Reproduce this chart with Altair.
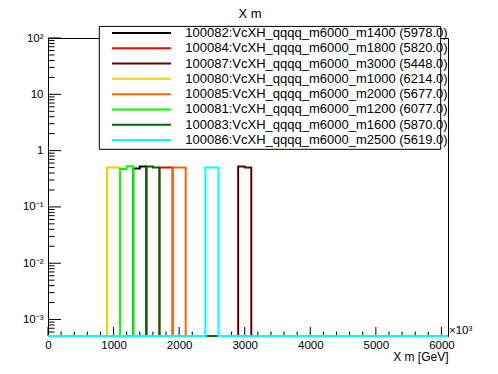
import altair as alt
import pandas as pd

FONT = "Liberation Sans"

# ---- data ----
chart_title = "X m"
series_labels = [
    "100082:VcXH_qqqq_m6000_m1400 (5978.0)",
    "100084:VcXH_qqqq_m6000_m1800 (5820.0)",
    "100087:VcXH_qqqq_m6000_m3000 (5448.0)",
    "100080:VcXH_qqqq_m6000_m1000 (6214.0)",
    "100085:VcXH_qqqq_m6000_m2000 (5677.0)",
    "100081:VcXH_qqqq_m6000_m1200 (6077.0)",
    "100083:VcXH_qqqq_m6000_m1600 (5870.0)",
    "100086:VcXH_qqqq_m6000_m2500 (5619.0)",
]
series_colors = ["#000000", "#ff0000", "#660000", "#ffcc00",
                 "#ff6600", "#00ff00", "#006600", "#00ffff"]
# lower edge of the first non-empty bin, and the two non-empty bin contents
first_bin = [1300, 1700, 2900, 900, 1900, 1100, 1500, 2400]
bin_contents = [
    [0.48, 0.52],
    [0.50, 0.50],
    [0.52, 0.50],
    [0.50, 0.50],
    [0.50, 0.50],
    [0.47, 0.53],
    [0.52, 0.50],
    [0.50, 0.50],
]
bin_width = 100
x_max = 6100

x_major = [0, 1000, 2000, 3000, 4000, 5000, 6000]
x_minor = [200, 400, 600, 800, 1200, 1400, 1600, 1800, 2200, 2400, 2600, 2800,
           3200, 3400, 3600, 3800, 4200, 4400, 4600, 4800, 5200, 5400, 5600, 5800]
y_major = [0.001, 0.01, 0.1, 1, 10, 100]
y_major_labels = ["10⁻³", "10⁻²", "10⁻¹", "1", "10", "10²"]
y_minor = [6e-4, 7e-4, 8e-4, 9e-4,
           2e-3, 3e-3, 4e-3, 5e-3, 6e-3, 7e-3, 8e-3, 9e-3,
           2e-2, 3e-2, 4e-2, 5e-2, 6e-2, 7e-2, 8e-2, 9e-2,
           0.2, 0.3, 0.4, 0.5, 0.6, 0.7, 0.8, 0.9,
           2, 3, 4, 5, 6, 7, 8, 9,
           20, 30, 40, 50, 60, 70, 80, 90]

y_min, y_max = 5.1e-4, 100
W, H = 400, 298

xscale = alt.Scale(domain=[0, x_max], nice=False, zero=False)
yscale = alt.Scale(type="log", domain=[y_min, y_max], nice=False, clamp=True)


def hist_frame(start, contents):
    rows = []
    filled = {start + k * bin_width: v for k, v in enumerate(contents)}
    for e in range(0, x_max + bin_width, bin_width):
        v = filled.get(e, 0.0)
        # empty bins sit on the bottom of the frame (clamped log scale)
        rows.append({"x": e, "y": v if v > 0 else 1e-6})
    return pd.DataFrame(rows)


label_expr = " : ".join(
    f"datum.value == {v} ? '{t}'" for v, t in zip(y_major, y_major_labels)
) + " : ''"

layers = []

# tick marks (ROOT style, pointing into the frame)
layers.append(alt.Chart(pd.DataFrame({"v": y_major})).mark_rule(color="black", strokeWidth=1).encode(
    y=alt.Y("v:Q", scale=yscale, axis=None), x=alt.value(0), x2=alt.value(13)))
layers.append(alt.Chart(pd.DataFrame({"v": y_minor})).mark_rule(color="black", strokeWidth=1).encode(
    y=alt.Y("v:Q", scale=yscale, axis=None), x=alt.value(0), x2=alt.value(6.5)))
layers.append(alt.Chart(pd.DataFrame({"v": x_major})).mark_rule(color="black", strokeWidth=1).encode(
    x=alt.X("v:Q", scale=xscale, axis=None), y=alt.value(H), y2=alt.value(H - 9)))
layers.append(alt.Chart(pd.DataFrame({"v": x_minor})).mark_rule(color="black", strokeWidth=1).encode(
    x=alt.X("v:Q", scale=xscale, axis=None), y=alt.value(H), y2=alt.value(H - 4.5)))

# histograms, in drawing order
for i, (start, contents, col) in enumerate(zip(first_bin, bin_contents, series_colors)):
    if i == 0:
        xaxis = alt.Axis(values=x_major, format="d", ticks=False, domain=False, grid=False,
                         labelFont=FONT, labelFontSize=11.5, labelColor="black",
                         labelPadding=3, labelFlush=False,
                         title="X m [GeV]", titleFont=FONT, titleFontSize=12,
                         titleFontWeight="normal", titleColor="black",
                         titleX=W, titleY=20, titleAlign="right", titleBaseline="middle",
                         titleAnchor="end")
        yaxis = alt.Axis(values=y_major, labelExpr=label_expr, ticks=False, domain=False,
                         grid=False, labelFont=FONT, labelFontSize=11.5, labelColor="black",
                         labelPadding=5, labelFlush=False, title=None)
    else:
        xaxis = None
        yaxis = None
    layers.append(
        alt.Chart(hist_frame(start, contents)).mark_line(
            interpolate="step-after", strokeWidth=2, color=col, clip=False
        ).encode(
            x=alt.X("x:Q", scale=xscale, axis=xaxis),
            y=alt.Y("y:Q", scale=yscale, axis=yaxis),
        )
    )

# legend box
layers.append(alt.Chart(pd.DataFrame({"a": [0]})).mark_rect(
    fill="white", stroke="black", strokeWidth=1).encode(
    x=alt.value(51.3), x2=alt.value(392.7), y=alt.value(-11.6), y2=alt.value(111.3)))

legend_df = pd.DataFrame({"row": list(range(len(series_labels))),
                          "label": series_labels, "color": series_colors})
row_scale = alt.Scale(domain=[0, len(series_labels) - 1], range=[-5, 102])
layers.append(alt.Chart(legend_df).mark_rule(strokeWidth=2).encode(
    y=alt.Y("row:Q", scale=row_scale, axis=None),
    x=alt.value(64), x2=alt.value(123),
    color=alt.Color("color:N", scale=None)))
layers.append(alt.Chart(legend_df).mark_text(
    align="left", baseline="middle", font=FONT, fontSize=13, color="black").encode(
    y=alt.Y("row:Q", scale=row_scale, axis=None),
    x=alt.value(137.3),
    text="label:N"))

# exponent marker of the x axis
layers.append(alt.Chart(pd.DataFrame({"t": ["×10³"]})).mark_text(
    align="left", baseline="middle", font=FONT, fontSize=11.5, color="black").encode(
    x=alt.value(W + 1), y=alt.value(H - 5), text="t:N"))

# title
layers.append(alt.Chart(pd.DataFrame({"t": [chart_title]})).mark_text(
    align="center", baseline="top", font=FONT, fontSize=13, color="black").encode(
    x=alt.value(202), y=alt.value(-29.8), text="t:N"))

chart = alt.layer(*layers).resolve_scale(
    x="independent", y="independent"
).properties(
    width=W, height=H,
    autosize=alt.AutoSizeParams(type="none"),
    padding={"left": 40, "top": 30, "right": 42, "bottom": 30},
    background="white",
).configure_view(stroke="black", strokeWidth=1)

chart.save("out.html", embed_options={"renderer": "svg", "actions": False})
